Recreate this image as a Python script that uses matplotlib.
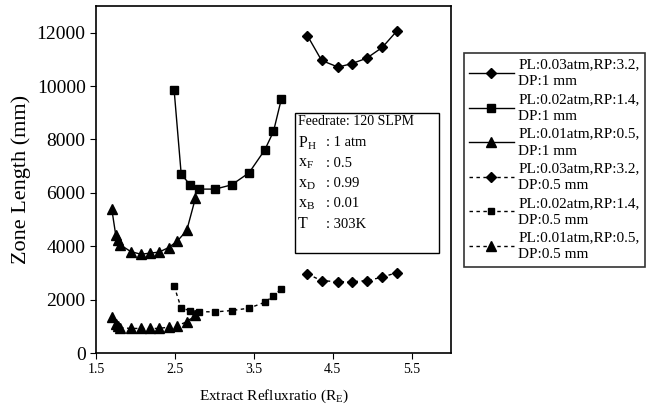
import matplotlib.pyplot as plt
from matplotlib.patches import Rectangle

plt.rcParams['font.family'] = ['Liberation Serif', 'DejaVu Serif']
plt.rcParams['mathtext.fontset'] = 'custom'
plt.rcParams['mathtext.rm'] = 'Liberation Serif'
plt.rcParams['mathtext.it'] = 'Liberation Serif'

# DP: 1 mm series
x_dia = [4.18, 4.36, 4.57, 4.74, 4.93, 5.13, 5.31]
y_dia = [11890, 10960, 10710, 10840, 11040, 11450, 12050]
x_sq = [2.49, 2.58, 2.69, 2.81, 3.01, 3.22, 3.44, 3.64, 3.75, 3.85]
y_sq = [9860, 6700, 6310, 6140, 6140, 6300, 6750, 7610, 8300, 9520]
x_tri = [1.70, 1.75, 1.78, 1.81, 1.94, 2.07, 2.18, 2.30, 2.42, 2.53, 2.65, 2.76]
y_tri = [5390, 4420, 4240, 4050, 3800, 3700, 3740, 3780, 3950, 4190, 4590, 5800]

# DP: 0.5 mm series
y_dia_05 = [2960, 2710, 2670, 2670, 2710, 2840, 3010]
y_sq_05 = [2510, 1680, 1590, 1550, 1540, 1590, 1680, 1900, 2140, 2400]
y_tri_05 = [1360, 1100, 1000, 950, 920, 920, 920, 920, 970, 1020, 1170, 1420]

labels = ['PL:0.03atm,RP:3.2,\nDP:1 mm', 'PL:0.02atm,RP:1.4,\nDP:1 mm',
          'PL:0.01atm,RP:0.5,\nDP:1 mm', 'PL:0.03atm,RP:3.2,\nDP:0.5 mm',
          'PL:0.02atm,RP:1.4,\nDP:0.5 mm', 'PL:0.01atm,RP:0.5,\nDP:0.5 mm']

info_keys = ['$\\mathregular{P_H}$', '$\\mathregular{x_F}$', '$\\mathregular{x_D}$',
             '$\\mathregular{x_B}$', 'T']
info_vals = [': 1 atm', ': 0.5', ': 0.99', ': 0.01', ': 303K']

fig = plt.figure(figsize=(6.47, 4.08), dpi=100)
ax = fig.add_axes([0.1484, 0.1348, 0.5486, 0.8505])

dash = (0, (2.5, 2.5))
ax.plot(x_dia, y_dia, 'k-', marker='D', ms=5, lw=1, label=labels[0])
ax.plot(x_sq, y_sq, 'k-', marker='s', ms=6, lw=1, label=labels[1])
ax.plot(x_tri, y_tri, 'k-', marker='^', ms=7, lw=1, label=labels[2])
ax.plot(x_dia, y_dia_05, color='k', ls=dash, marker='D', ms=5, lw=1, label=labels[3])
ax.plot(x_sq, y_sq_05, color='k', ls=dash, marker='s', ms=4, lw=1, label=labels[4])
ax.plot(x_tri, y_tri_05, color='k', ls=dash, marker='^', ms=7, lw=1, label=labels[5])

ax.set_xlim(1.5, 6.0)
ax.set_ylim(0, 13000)
ax.set_xticks([1.5, 2.5, 3.5, 4.5, 5.5])
ax.set_xticklabels(['1.5', '2.5', '3.5', '4.5', '5.5'])
ax.set_yticks(range(0, 13000, 2000))
ax.tick_params(axis='x', labelsize=10, direction='out', length=4)
ax.tick_params(axis='y', labelsize=14, direction='out', length=4)
for s in ax.spines.values():
    s.set_linewidth(1.2)

ax.set_xlabel('Extract Refluxratio ($\\mathregular{R_E}$)', fontsize=11, labelpad=8)
ax.set_ylabel('Zone Length (mm)', fontsize=16, labelpad=4)

# parameters box
ax.add_patch(Rectangle((4.02, 3750), 1.83, 5250, fill=False, ec='k', lw=1, zorder=3))
ax.text(4.06, 8660, 'Feedrate: 120 SLPM', fontsize=10, va='center')
for i, (k, v) in enumerate(zip(info_keys, info_vals)):
    yy = 7870 - i * 760
    ax.text(4.06, yy, k, fontsize=11.5, va='center')
    ax.text(4.42, yy, v, fontsize=10.5, va='center')

leg = fig.legend(loc='upper left', bbox_to_anchor=(0.717, 0.870), fontsize=11,
                 frameon=True, fancybox=False, edgecolor='k', handlelength=2.9,
                 handletextpad=0.3, borderpad=0.35, labelspacing=0.3,
                 borderaxespad=0)
leg.get_frame().set_linewidth(1.2)
for t in leg.get_texts():
    t.set_linespacing(1.4)

fig.savefig('out.png', dpi=100)
